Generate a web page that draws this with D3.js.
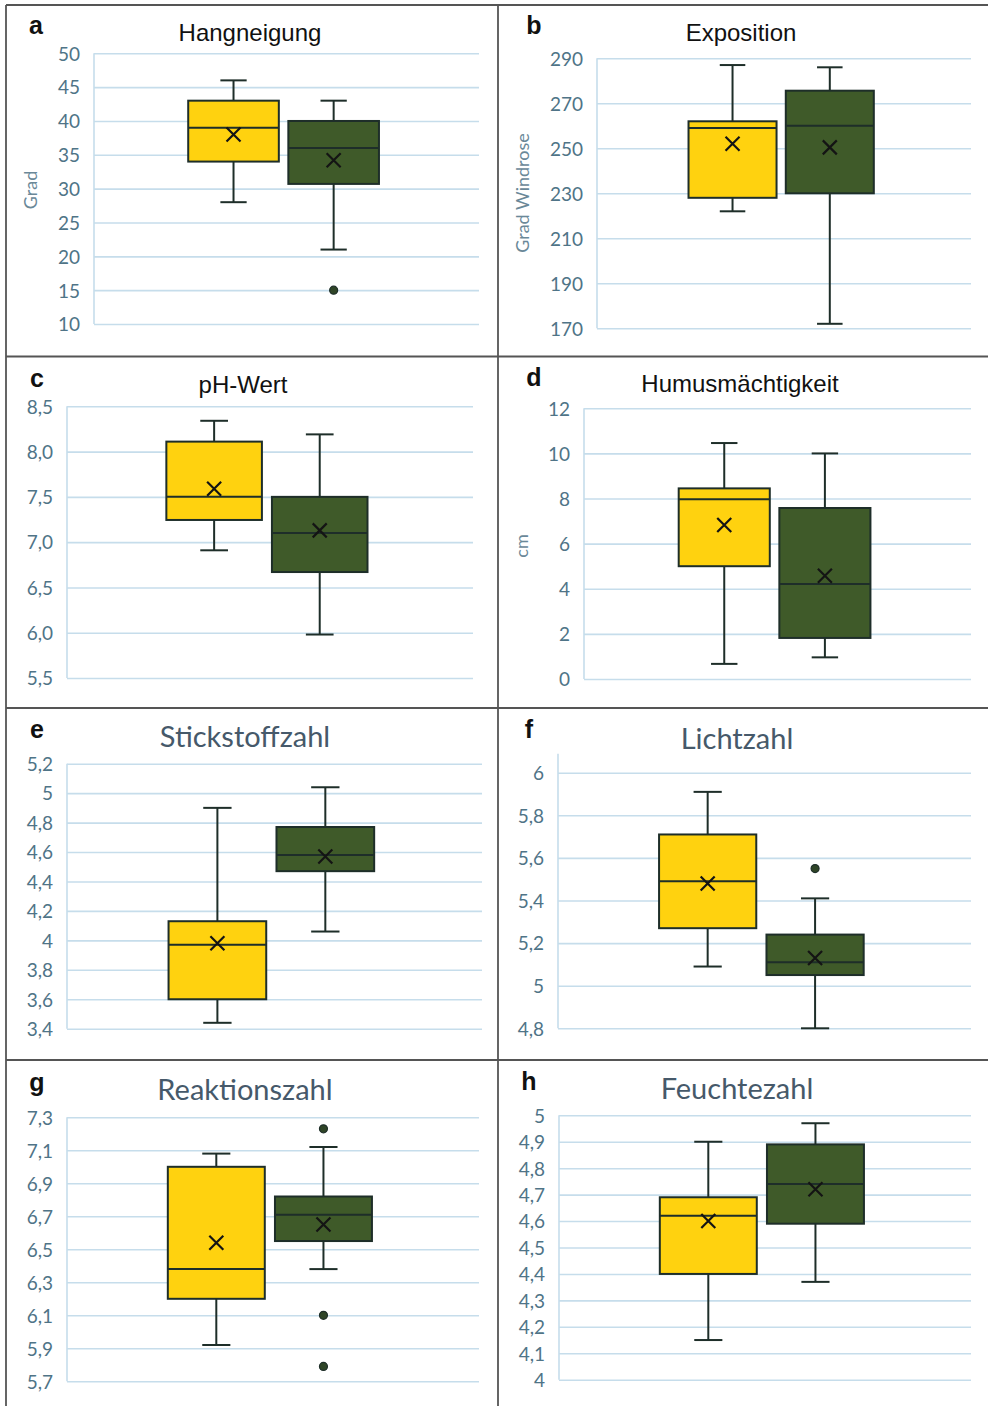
<!DOCTYPE html>
<html>
<head>
<meta charset="utf-8">
<script src="https://cdn.jsdelivr.net/npm/d3@7"></script>
<style>
  body { margin: 0; background: #fff; }
  svg { display: block; }
</style>
</head>
<body>
<script>
// panel texts
const panelLetters = ['a', 'b', 'c', 'd', 'e', 'f', 'g', 'h'];
const panelTitles = ['Hangneigung', 'Exposition', 'pH-Wert', 'Humusmächtigkeit',
                     'Stickstoffzahl', 'Lichtzahl', 'Reaktionszahl', 'Feuchtezahl'];
const axisTitles = ['Grad', 'Grad Windrose', '', 'cm', '', '', '', ''];
const series = ['gelb', 'grün'];

// box statistics: min, q1, median, q3, max, mean
const hangneigungGelb  = [28, 34, 39, 43, 46, 38];
const hangneigungGruen = [21, 30.7, 36, 40, 43, 34.2];
const hangneigungAusreisser = [[], [15]];

const expositionGelb  = [222, 228, 259, 262, 287, 252];
const expositionGruen = [172, 230, 260, 275.6, 286, 250.4];
const expositionAusreisser = [[], []];

const phGelb  = [6.91, 7.245, 7.5, 8.11, 8.34, 7.59];
const phGruen = [5.98, 6.67, 7.1, 7.5, 8.19, 7.13];
const phAusreisser = [[], []];

const humusGelb  = [0.67, 5.0, 7.97, 8.45, 10.46, 6.83];
const humusGruen = [0.96, 1.82, 4.21, 7.58, 10, 4.58];
const humusAusreisser = [[], []];

const stickstoffGelb  = [3.44, 3.6, 3.97, 4.13, 4.9, 3.98];
const stickstoffGruen = [4.06, 4.47, 4.58, 4.77, 5.04, 4.57];
const stickstoffAusreisser = [[], []];

const lichtGelb  = [5.09, 5.27, 5.49, 5.71, 5.91, 5.48];
const lichtGruen = [4.8, 5.05, 5.11, 5.24, 5.41, 5.13];
const lichtAusreisser = [[], [5.55]];

const reaktionGelb  = [5.92, 6.2, 6.38, 7.0, 7.08, 6.54];
const reaktionGruen = [6.38, 6.55, 6.71, 6.82, 7.12, 6.65];
const reaktionAusreisser = [[], [7.23, 6.1, 5.79]];

const feuchteGelb  = [4.15, 4.4, 4.62, 4.69, 4.9, 4.6];
const feuchteGruen = [4.37, 4.59, 4.74, 4.89, 4.97, 4.72];
const feuchteAusreisser = [[], []];

// y tick values
const hangneigungTicks = [10, 15, 20, 25, 30, 35, 40, 45, 50];
const expositionTicks  = [170, 190, 210, 230, 250, 270, 290];
const phTicks          = [5.5, 6.0, 6.5, 7.0, 7.5, 8.0, 8.5];
const humusTicks       = [0, 2, 4, 6, 8, 10, 12];
const stickstoffTicks  = [3.4, 3.6, 3.8, 4.0, 4.2, 4.4, 4.6, 4.8, 5.0, 5.2];
const lichtTicks       = [4.8, 5.0, 5.2, 5.4, 5.6, 5.8, 6.0];
const reaktionTicks    = [5.7, 5.9, 6.1, 6.3, 6.5, 6.7, 6.9, 7.1, 7.3];
const feuchteTicks     = [4.0, 4.1, 4.2, 4.3, 4.4, 4.5, 4.6, 4.7, 4.8, 4.9, 5.0];

const panelBoxes = [
    [hangneigungGelb, hangneigungGruen], [expositionGelb, expositionGruen],
    [phGelb, phGruen], [humusGelb, humusGruen],
    [stickstoffGelb, stickstoffGruen], [lichtGelb, lichtGruen],
    [reaktionGelb, reaktionGruen], [feuchteGelb, feuchteGruen]
];
const panelOutliers = [hangneigungAusreisser, expositionAusreisser, phAusreisser, humusAusreisser,
                       stickstoffAusreisser, lichtAusreisser, reaktionAusreisser, feuchteAusreisser];
const panelTicks = [hangneigungTicks, expositionTicks, phTicks, humusTicks,
                    stickstoffTicks, lichtTicks, reaktionTicks, feuchteTicks];

// german number format
const de = d3.formatLocale({decimal: ',', thousands: '.', grouping: [3], currency: ['', ' €']});
const panelFormats = ['~g', '~g', '.1f', '~g', '~g', '~g', '~g', '~g'];

// layout (pixels) of each plot area
const layout = [
    {left: 94,  right: 479, top: 53.3,   bottom: 324,    titleX: 250, titleY: 41,   letterX: 36,  letterY: 34,   axTX: 31,  axTY: 190, calibri: false},
    {left: 597, right: 971, top: 58.3,   bottom: 328.3,  titleX: 741, titleY: 41,   letterX: 534, letterY: 34,   axTX: 523, axTY: 193, calibri: false},
    {left: 67,  right: 473, top: 406.3,  bottom: 678,    titleX: 243, titleY: 393,  letterX: 37,  letterY: 387,  calibri: false},
    {left: 584, right: 971, top: 408.3,  bottom: 679,    titleX: 740, titleY: 392,  letterX: 534, letterY: 386,  axTX: 522, axTY: 546, calibri: false},
    {left: 67,  right: 482, top: 763.7,  bottom: 1028.7, titleX: 245, titleY: 747,  letterX: 37,  letterY: 738,  calibri: true},
    {left: 558, right: 971, top: 772.7,  bottom: 1028.3, titleX: 737, titleY: 749,  letterX: 529, letterY: 738,  calibri: true, axisExtra: 19},
    {left: 67,  right: 479, top: 1117.3, bottom: 1381.3, titleX: 245, titleY: 1100, letterX: 37,  letterY: 1091, calibri: true},
    {left: 559, right: 971, top: 1115.3, bottom: 1379.7, titleX: 737, titleY: 1099, letterX: 529, letterY: 1090, calibri: true}
];

// colors
const fills = ['#ffd20f', '#3f5a29'];
const strokeColor = '#1e2e29';
const gridColor = '#c6ddeb';
const tickColor = '#4f7487';

const svg = d3.select('body').append('svg')
    .attr('width', 988)
    .attr('height', 1406);

svg.append('rect').attr('width', 988).attr('height', 1406).attr('fill', '#fff');

// panel frame
const frame = svg.append('g')
    .attr('stroke', '#555')
    .attr('stroke-width', 1.8);
frame.append('line').attr('x1', 6).attr('x2', 988).attr('y1', 5).attr('y2', 5);
frame.append('line').attr('x1', 6).attr('x2', 6).attr('y1', 5).attr('y2', 1406);
frame.append('line').attr('x1', 498).attr('x2', 498).attr('y1', 5).attr('y2', 1406);
[356.5, 708, 1060].forEach(y => {
    frame.append('line').attr('x1', 6).attr('x2', 988).attr('y1', y).attr('y2', y);
});

function drawPanel(i){
    const L = layout[i];
    const ticks = panelTicks[i];
    const g = svg.append('g').attr('class', 'panel-' + panelLetters[i]);

    // scales
    const y = d3.scaleLinear()
        .domain([ticks[0], ticks[ticks.length - 1]])
        .range([L.bottom, L.top]);
    const x = d3.scaleBand()
        .domain(series)
        .range([L.left, L.right])
        .paddingInner(0.095)
        .paddingOuter(0.97)
        .align(0.485);

    // grid + tick labels
    const ax = g.append('g')
        .attr('transform', 'translate(' + L.left + ',0)')
        .call(d3.axisLeft(y)
            .tickValues(ticks)
            .tickFormat(de.format(panelFormats[i]))
            .tickSize(-(L.right - L.left))
            .tickPadding(14));
    ax.select('.domain').remove();
    ax.selectAll('.tick line')
        .attr('stroke', gridColor)
        .attr('stroke-width', 1.6);
    ax.selectAll('.tick text')
        .attr('fill', tickColor)
        .attr('dy', '0.36em')
        .style('font-family', 'Lato, sans-serif')
        .style('font-size', '19px');

    // vertical axis line
    g.append('line')
        .attr('x1', L.left).attr('x2', L.left)
        .attr('y1', L.top - (L.axisExtra || 0)).attr('y2', L.bottom)
        .attr('stroke', gridColor)
        .attr('stroke-width', 1.6);

    // boxes
    const bw = x.bandwidth();
    const capW = bw * 0.29;
    series.forEach((s, k) => {
        const st = panelBoxes[i][k];
        const cx = x(s) + bw / 2;
        const b = g.append('g')
            .attr('stroke', strokeColor)
            .attr('stroke-width', 2);

        b.append('line').attr('x1', cx).attr('x2', cx).attr('y1', y(st[0])).attr('y2', y(st[4]));
        b.append('line').attr('x1', cx - capW / 2).attr('x2', cx + capW / 2).attr('y1', y(st[0])).attr('y2', y(st[0]));
        b.append('line').attr('x1', cx - capW / 2).attr('x2', cx + capW / 2).attr('y1', y(st[4])).attr('y2', y(st[4]));

        b.append('rect')
            .attr('x', x(s))
            .attr('y', y(st[3]))
            .attr('width', bw)
            .attr('height', y(st[1]) - y(st[3]))
            .attr('fill', fills[k]);

        b.append('line').attr('x1', x(s)).attr('x2', x(s) + bw).attr('y1', y(st[2])).attr('y2', y(st[2]));

        // mean marker
        const my = y(st[5]), h = 7;
        b.append('path')
            .attr('d', 'M' + (cx - h) + ',' + (my - h) + 'L' + (cx + h) + ',' + (my + h) +
                       'M' + (cx - h) + ',' + (my + h) + 'L' + (cx + h) + ',' + (my - h))
            .attr('stroke', '#141414')
            .attr('stroke-width', 2.2)
            .attr('fill', 'none');

        // outliers
        b.selectAll('circle')
            .data(panelOutliers[i][k])
            .enter()
            .append('circle')
            .attr('cx', cx)
            .attr('cy', d => y(d))
            .attr('r', 4)
            .attr('fill', '#2f4527')
            .attr('stroke-width', 1.2);
    });

    // title
    g.append('text')
        .attr('x', L.titleX)
        .attr('y', L.titleY)
        .attr('text-anchor', 'middle')
        .attr('fill', L.calibri ? '#46596a' : '#111')
        .style('font-family', L.calibri ? 'Lato, sans-serif' : '"Liberation Sans", Arial, sans-serif')
        .style('font-size', L.calibri ? '29px' : '24px')
        .text(panelTitles[i]);

    // panel letter
    g.append('text')
        .attr('x', L.letterX)
        .attr('y', L.letterY)
        .attr('text-anchor', 'middle')
        .attr('fill', '#111')
        .style('font-family', '"Liberation Sans", Arial, sans-serif')
        .style('font-weight', 'bold')
        .style('font-size', '25px')
        .text(panelLetters[i]);

    // y axis title
    if(axisTitles[i] !== ''){
        g.append('text')
            .attr('transform', 'translate(' + L.axTX + ',' + L.axTY + ') rotate(-90)')
            .attr('text-anchor', 'middle')
            .attr('dy', '0.35em')
            .attr('fill', '#6a8898')
            .style('font-family', 'Lato, sans-serif')
            .style('font-size', '18px')
            .text(axisTitles[i]);
    }
}

panelLetters.forEach((p, i) => drawPanel(i));
</script>
</body>
</html>
